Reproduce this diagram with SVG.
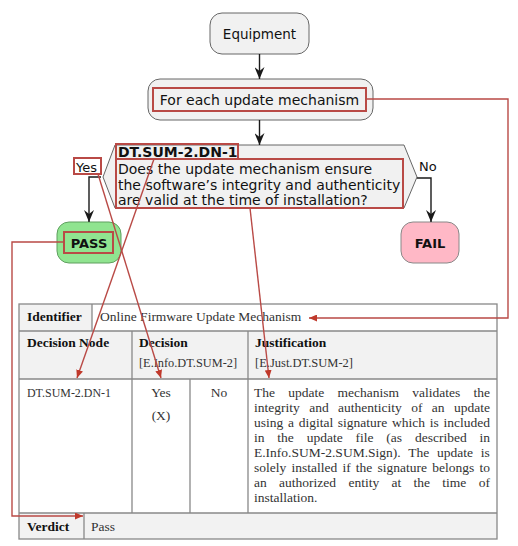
<svg xmlns="http://www.w3.org/2000/svg" width="518" height="546" viewBox="0 0 518 546">
<style>
.fc{font-family:"DejaVu Sans",sans-serif;fill:#111}
.tb{font-family:"Liberation Serif",serif;font-size:13.5px;fill:#333}
.tbb{font-family:"Liberation Serif",serif;font-size:13.5px;font-weight:bold;fill:#111}
.node{fill:#f1f1f1;stroke:#666;stroke-width:1}
.blk{fill:none;stroke:#1a1a1a;stroke-width:1.4}
.red{fill:none;stroke:#b94a46;stroke-width:1.4}
.redbox{fill:none;stroke:#b94a46;stroke-width:2}
.grid{stroke:#888;stroke-width:1.3;fill:none}
.hdr{fill:#f2f2f2}
</style>
<defs>
<marker id="ah" viewBox="0 0 12 10" refX="12" refY="5" markerWidth="12" markerHeight="10" markerUnits="userSpaceOnUse" orient="auto">
<path d="M0,0 L12,5 L0,10 L4,5 z" fill="#1a1a1a"/>
</marker>
<marker id="rh" viewBox="0 0 8 7" refX="8" refY="3.5" markerWidth="8" markerHeight="7" markerUnits="userSpaceOnUse" orient="auto">
<path d="M0,0 L8,3.5 L0,7 z" fill="#c0392b"/>
</marker>
</defs>
<rect width="518" height="546" fill="#fff"/>

<g id="equipment">
<rect class="node" x="210" y="13" width="99" height="41" rx="12"/>
<text class="fc" x="259.5" y="39" font-size="13.5" text-anchor="middle">Equipment</text>
</g>

<g id="foreach">
<rect class="node" x="148" y="79" width="225" height="41" rx="12"/>
<rect class="redbox" x="153" y="88" width="213" height="23"/>
<text class="fc" x="259.5" y="104.5" font-size="14" text-anchor="middle">For each update mechanism</text>
</g>

<g id="decision">
<polygon class="node" points="115,145 404,145 417,177 404,208 115,208 103,177"/>
<rect class="redbox" x="116" y="144" width="122" height="15"/>
<rect class="redbox" x="116" y="159" width="287" height="49"/>
<text class="fc" x="118" y="157" font-size="14" font-weight="bold">DT.SUM-2.DN-1</text>
<text class="fc" x="118" y="174" font-size="14">Does the update mechanism ensure</text>
<text class="fc" x="118" y="190" font-size="14">the software’s integrity and authenticity</text>
<text class="fc" x="118" y="205" font-size="14">are valid at the time of installation?</text>
<rect class="redbox" x="74" y="158" width="27" height="16"/>
<text class="fc" x="76" y="172" font-size="13">Yes</text>
<text class="fc" x="419" y="171" font-size="13">No</text>
</g>

<g id="pass">
<rect x="57" y="222" width="64" height="41" rx="12" fill="#90e490" stroke="#5f9f5f" stroke-width="1"/>
<rect class="redbox" x="64" y="232" width="49" height="21"/>
<text class="fc" x="89" y="247.5" font-size="13" font-weight="bold" text-anchor="middle">PASS</text>
</g>

<g id="fail">
<rect x="401" y="222" width="58" height="41" rx="12" fill="#ffb8c6" stroke="#888" stroke-width="1"/>
<text class="fc" x="430" y="247.5" font-size="13" font-weight="bold" text-anchor="middle">FAIL</text>
</g>

<g id="table">
<rect class="hdr" x="19" y="304" width="73" height="27"/>
<rect class="hdr" x="19" y="331" width="478" height="48"/>
<rect class="hdr" x="19" y="513" width="478" height="26"/>
<rect class="grid" x="19" y="304" width="478" height="235"/>
<line class="grid" x1="92" y1="304" x2="92" y2="331"/>
<line class="grid" x1="19" y1="331" x2="497" y2="331"/>
<line class="grid" x1="19" y1="379" x2="497" y2="379"/>
<line class="grid" x1="19" y1="513" x2="497" y2="513"/>
<line class="grid" x1="132" y1="331" x2="132" y2="513"/>
<line class="grid" x1="248" y1="331" x2="248" y2="513"/>
<line class="grid" x1="190" y1="379" x2="190" y2="513"/>
<line class="grid" x1="84" y1="513" x2="84" y2="539"/>
<text class="tbb" x="27" y="321">Identifier</text>
<text class="tb" x="100" y="321">Online Firmware Update Mechanism</text>
<text class="tbb" x="27" y="347">Decision Node</text>
<text class="tbb" x="139" y="347">Decision</text>
<text class="tb" x="139" y="367" textLength="98" lengthAdjust="spacingAndGlyphs">[E.Info.DT.SUM-2]</text>
<text class="tbb" x="255" y="347">Justification</text>
<text class="tb" x="255" y="367" textLength="98" lengthAdjust="spacingAndGlyphs">[E.Just.DT.SUM-2]</text>
<text class="tb" x="27" y="397" textLength="84" lengthAdjust="spacingAndGlyphs">DT.SUM-2.DN-1</text>
<text class="tb" x="161" y="397" text-anchor="middle">Yes</text>
<text class="tb" x="161" y="420" text-anchor="middle">(X)</text>
<text class="tb" x="219" y="397" text-anchor="middle">No</text>
<text class="tb" x="254" y="397" word-spacing="9.9">The update mechanism validates the</text>
<text class="tb" x="254" y="412" word-spacing="6.04">integrity and authenticity of an update</text>
<text class="tb" x="254" y="427" word-spacing="1.33">using a digital signature which is included</text>
<text class="tb" x="254" y="442" word-spacing="9.47">in the update file (as described in</text>
<text class="tb" x="254" y="457" word-spacing="4.43">E.Info.SUM-2.SUM.Sign). The update is</text>
<text class="tb" x="254" y="472" word-spacing="1.83">solely installed if the signature belongs to</text>
<text class="tb" x="254" y="487" word-spacing="8.96">an authorized entity at the time of</text>
<text class="tb" x="254" y="502">installation.</text>
<text class="tbb" x="27" y="531">Verdict</text>
<text class="tb" x="91" y="531">Pass</text>
</g>

<g id="connectors">
<path class="blk" d="M259.5,54 V79" marker-end="url(#ah)"/>
<path class="blk" d="M259.5,120 V145" marker-end="url(#ah)"/>
<path class="blk" d="M101,177 H89 V222" marker-end="url(#ah)"/>
<path class="blk" d="M417,178 H431 V222" marker-end="url(#ah)"/>
<path class="red" d="M366,99 H508 V318 H309" marker-end="url(#rh)"/>
<path class="red" d="M64,242 H12 V516 H83" marker-end="url(#rh)"/>
<path class="red" d="M154,159 L77,378" marker-end="url(#rh)"/>
<path class="red" d="M98,174 L161,378" marker-end="url(#rh)"/>
<path class="red" d="M250,208 L269,378" marker-end="url(#rh)"/>
</g>
</svg>
